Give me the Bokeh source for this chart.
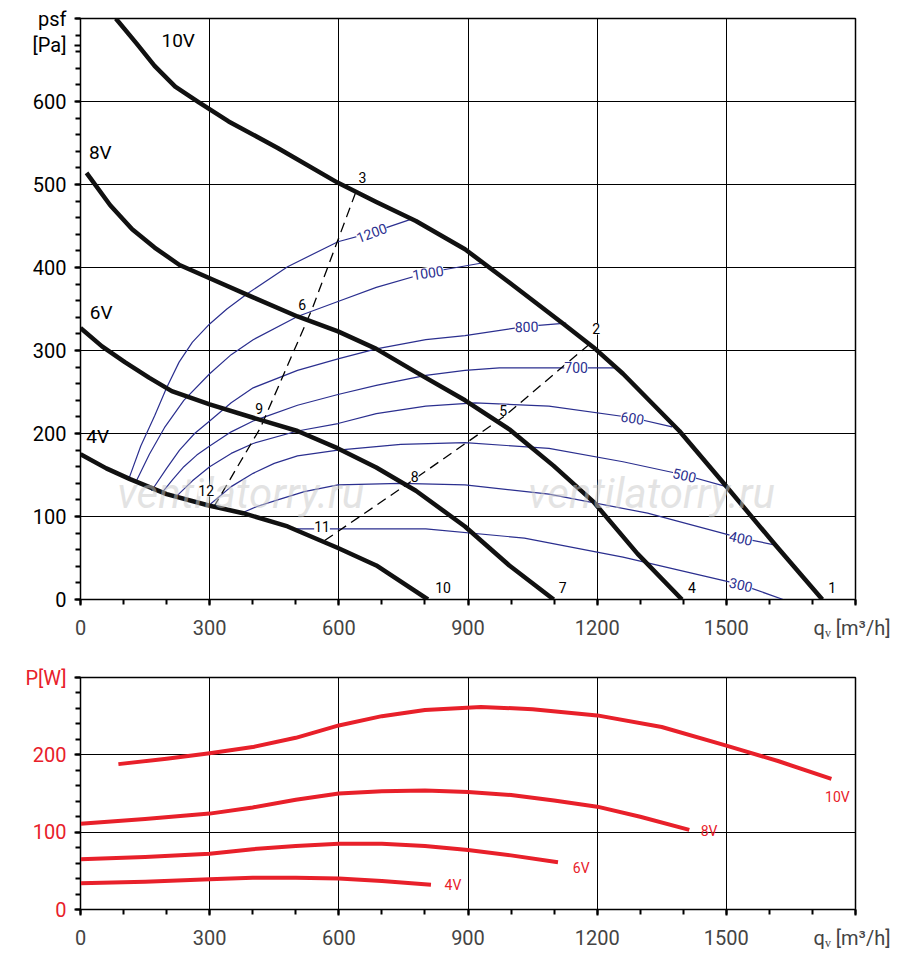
from bokeh.plotting import figure
from bokeh.layouts import column
from bokeh.models import Label, FixedTicker, Range1d
from bokeh.embed import file_html
from bokeh.resources import INLINE

FONT = "Roboto"
RED = "#e8202a"
BLUE = "#2b2f8f"

# fan curves psf [Pa] vs qv [m3/h]
v10_x = [82, 130, 172, 220, 275, 344, 458, 598, 687, 779, 893, 996, 1122, 1191, 1260, 1391, 1489, 1615, 1723]
v10_y = [700, 670, 643, 618, 599, 576, 544, 502, 479, 456, 422, 382, 332, 304, 272, 203, 143, 65, 0]
v8_x = [14, 69, 120, 172, 230, 300, 401, 504, 598, 687, 779, 893, 996, 1099, 1191, 1294, 1397]
v8_y = [514, 475, 446, 424, 403, 387, 364, 341, 323, 302, 274, 240, 205, 161, 118, 55, 0]
v6_x = [0, 50, 103, 160, 212, 300, 401, 504, 598, 687, 779, 893, 996, 1099]
v6_y = [327, 305, 286, 267, 251, 235, 219, 203, 182, 159, 131, 88, 41, 0]
v4_x = [0, 60, 115, 200, 300, 378, 481, 598, 687, 807]
v4_y = [175, 158, 145, 127, 113, 104, 88, 62, 41, 0]

# rpm contours
rpm = {
    "1200": ([112, 140, 172, 200, 229, 260, 300, 340, 389, 481, 598, 676, 767],
             [145, 185, 221, 255, 286, 310, 332, 350, 369, 401, 431, 442, 458]),
    "1000": ([128, 160, 195, 240, 300, 350, 401, 504, 598, 687, 807, 939],
             [141, 175, 207, 240, 272, 295, 313, 341, 359, 376, 394, 406]),
    "800": ([165, 200, 230, 265, 300, 350, 401, 504, 598, 687, 802, 893, 1036, 1128],
            [131, 158, 180, 200, 215, 237, 255, 276, 290, 302, 313, 318, 329, 333]),
    "700": ([188, 215, 240, 270, 300, 350, 401, 504, 598, 687, 802, 893, 973, 1151, 1242],
            [128, 145, 160, 174, 185, 202, 215, 234, 247, 258, 270, 276, 279, 279, 279]),
    "600": ([222, 260, 300, 350, 401, 504, 598, 687, 802, 916, 1088, 1282, 1374],
            [124, 143, 160, 176, 188, 203, 212, 224, 233, 237, 233, 219, 208]),
    "500": ([302, 350, 401, 450, 504, 598, 744, 893, 1088, 1260, 1403, 1500],
            [115, 136, 152, 164, 173, 180, 187, 189, 182, 166, 150, 136]),
    "400": ([373, 410, 458, 520, 598, 744, 893, 1088, 1317, 1534, 1620],
            [104, 112, 120, 130, 138, 140, 138, 127, 104, 74, 65]),
    "300": ([488, 598, 802, 1031, 1260, 1534, 1632],
            [85, 85, 85, 74, 51, 18, 0]),
}
rpm_lbl = {"1200": (676, 442, 0.35), "1000": (807, 394, 0.15), "800": (1036, 329, 0.03),
           "700": (1151, 279, 0.0), "600": (1282, 219, -0.15), "500": (1403, 150, -0.22),
           "400": (1534, 74, -0.22), "300": (1534, 18, -0.22)}

dash1_x = [309, 418, 538, 641]
dash1_y = [111, 207, 350, 493]
dash2_x = [567, 756, 985, 1185]
dash2_y = [71, 138, 221, 309]
pt_lbl = [("12", 292, 131), ("9", 415, 230), ("6", 515, 355), ("3", 655, 509),
          ("11", 561, 88), ("8", 776, 148), ("5", 982, 228), ("2", 1198, 326),
          ("10", 842, 15), ("7", 1120, 15), ("4", 1420, 15), ("1", 1746, 15)]
v_lbl = [("10V", 227, 674), ("8V", 46, 538), ("6V", 48, 346), ("4V", 40, 196)]

# power curves P [W]
p10_x = [88, 200, 300, 400, 500, 600, 700, 800, 930, 1050, 1200, 1350, 1500, 1620, 1744]
p10_y = [188, 195, 202, 210, 222, 238, 250, 258, 262, 259, 251, 236, 212, 192, 169]
p8_x = [0, 150, 300, 400, 500, 600, 700, 800, 900, 1000, 1100, 1200, 1300, 1414]
p8_y = [111, 117, 124, 132, 142, 150, 153, 154, 152, 148, 141, 133, 120, 103]
p6_x = [0, 150, 300, 400, 500, 600, 700, 800, 900, 1000, 1109]
p6_y = [65, 68, 72, 78, 82, 85, 85, 82, 77, 70, 61]
p4_x = [0, 150, 300, 400, 500, 600, 700, 814]
p4_y = [34, 36, 39, 41, 41, 40, 37, 32]
p_lbl = [("10V", 1758, 145), ("8V", 1460, 101), ("6V", 1163, 54), ("4V", 865, 32)]

xt = [0, 300, 600, 900, 1200, 1500]
XLABEL = "qᵥ [m³/h]"


def style(p, yt, ycol, yminor, ylabels):
    p.xaxis.ticker = FixedTicker(ticks=xt + [1800], minor_ticks=list(range(0, 1801, 100)))
    p.xaxis.major_label_overrides = {1800: XLABEL}
    p.yaxis.ticker = FixedTicker(ticks=yt + list(ylabels.keys()), minor_ticks=yminor)
    p.yaxis.major_label_overrides = ylabels
    p.xgrid.ticker = FixedTicker(ticks=xt)
    p.ygrid.ticker = FixedTicker(ticks=yt)
    for g in (p.xgrid, p.ygrid):
        g.grid_line_color = "black"
        g.grid_line_alpha = 1
        g.grid_line_width = 1
    p.outline_line_color = "black"
    p.outline_line_width = 1.5
    for ax in (p.xaxis, p.yaxis):
        ax.major_label_text_font = FONT
        ax.major_label_text_font_size = "20px"
        ax.axis_line_color = "black"
        ax.major_tick_in = 0
        ax.major_tick_out = 6
        ax.minor_tick_in = 0
        ax.minor_tick_out = 5
        ax.major_tick_line_width = 2
        ax.minor_tick_line_width = 2
    p.yaxis.major_label_text_color = ycol
    p.xaxis.major_label_standoff = 10
    p.yaxis.major_label_standoff = 8


def lab(p, t, x, y, size, color="black", align="center", base="middle", **kw):
    p.add_layout(Label(x=x, y=y, text=t, text_font=FONT, text_font_size=size,
                       text_color=color, text_align=align, text_baseline=base, **kw))


p1 = figure(width=890, height=663, output_backend="svg", toolbar_location=None,
            x_range=Range1d(0, 1800), y_range=Range1d(0, 700),
            min_border_left=80, min_border_right=35, min_border_top=18, min_border_bottom=64)
style(p1, [0, 100, 200, 300, 400, 500, 600], "black",
      [i for i in range(0, 701, 20)], {700: "psf", 668: "[Pa]"})

for x in (372, 1326):
    lab(p1, "ventilatorry.ru", x, 128, "42px", "#c8c8c8", text_font_style="italic",
        text_alpha=0.5)
for k, (xs, ys) in rpm.items():
    p1.line(xs, ys, color=BLUE, line_width=1.2)
for k, (x, y, a) in rpm_lbl.items():
    lab(p1, k, x, y, "14px", BLUE, background_fill_color="white", angle=a)
p1.line(dash1_x, dash1_y, color="black", line_width=1.3, line_dash="10 6")
p1.line(dash2_x, dash2_y, color="black", line_width=1.3, line_dash="10 6")
for xs, ys in ((v10_x, v10_y), (v8_x, v8_y), (v6_x, v6_y), (v4_x, v4_y)):
    p1.line(xs, ys, color="#111111", line_width=4.5, line_join="round")
for t, x, y in pt_lbl:
    lab(p1, t, x, y, "14px", background_fill_color="white" if y > 20 else None)
for t, x, y in v_lbl:
    lab(p1, t, x, y, "19px")

p2 = figure(width=890, height=307, output_backend="svg", toolbar_location=None,
            x_range=Range1d(0, 1800), y_range=Range1d(0, 300),
            min_border_left=80, min_border_right=35, min_border_top=14, min_border_bottom=61)
style(p2, [0, 100, 200], RED, [i for i in range(0, 301, 20)], {300: "P[W]"})
for xs, ys in ((p10_x, p10_y), (p8_x, p8_y), (p6_x, p6_y), (p4_x, p4_y)):
    p2.line(xs, ys, color=RED, line_width=4, line_join="round")
for t, x, y in p_lbl:
    lab(p2, t, x, y, "14px", RED)

layout = column(p1, p2, spacing=0)
open("out.html", "w").write(file_html(layout, INLINE))
